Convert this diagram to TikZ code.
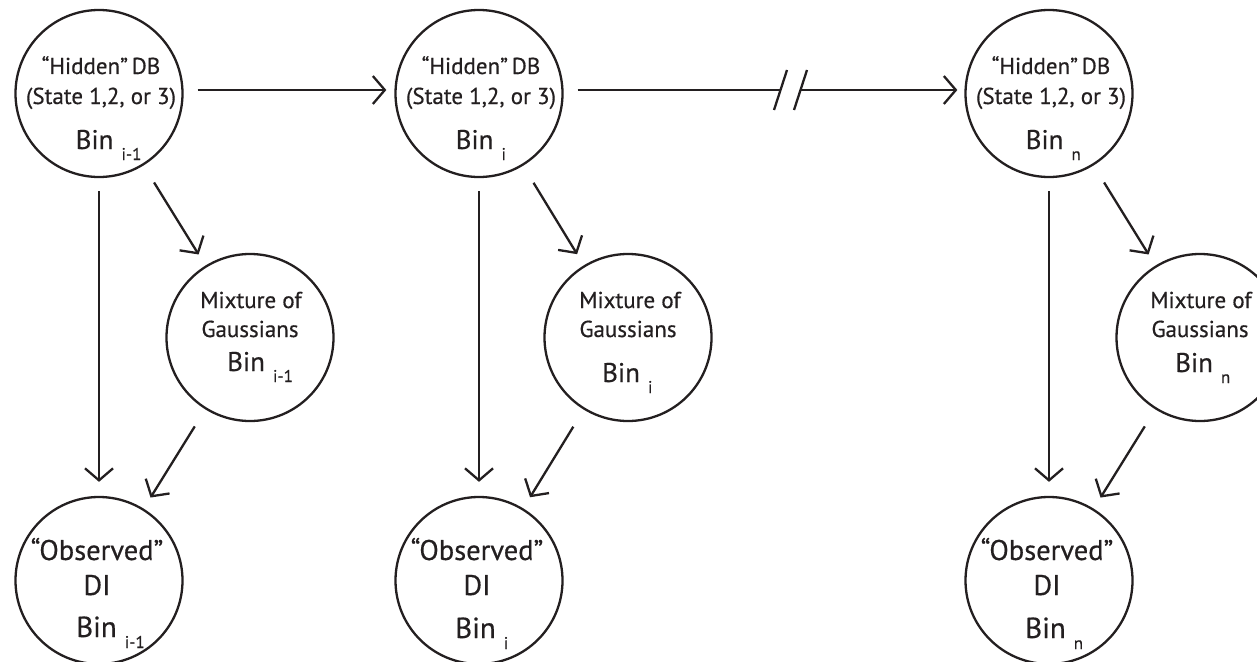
\documentclass[tikz,border=0pt]{standalone}
\usepackage{fontspec}
\setmainfont{PT Sans}[FakeBold=0.45]
\usetikzlibrary{arrows.meta}
\definecolor{ink}{HTML}{231F20}
\newcommand{\fsz}[1]{\fontsize{#1pt}{#1pt}\selectfont}
% "Bin" with its lowered index
\newcommand{\binlabel}[2]{{\fsz{#2}Bin}\hspace{8pt}{\fsz{17}\raisebox{-11pt}{#1}}}
\begin{document}
\begin{tikzpicture}[x=1pt,y=-1pt,
  state/.style={circle, draw=ink, line width=2.3pt, minimum size=167pt, inner sep=0pt},
  txt/.style={anchor=base, inner sep=0pt, text=ink, font=\fsz{23}},
  otxt/.style={anchor=base, inner sep=0pt, text=ink, font=\fsz{28.5}},
  bintxt/.style={anchor=base west, inner sep=0pt, text=ink},
  wire/.style={draw=ink, line width=2.3pt},
  arr/.style={wire, -{Straight Barb[length=12pt,width=28pt,line width=2.3pt]}},
]
\useasboundingbox (0,0) rectangle (1257,661);

% ---- circles ----
\node[state] (h1) at (99,93.5) {};
\node[state] (h2) at (479,93.5) {};
\node[state] (h3) at (1049,93.5) {};
\node[state] (m1) at (250,337.5) {};
\node[state] (m2) at (628,337.5) {};
\node[state] (m3) at (1200,337.5) {};
\node[state] (o1) at (99,580.5) {};
\node[state] (o2) at (479,580.5) {};
\node[state] (o3) at (1049,580.5) {};

% ---- hidden-state texts ----
\node[txt] (h1a) at (101,74) {“Hidden”\,DB};
\node[txt] (h1b) at (101,104) {(State 1,2, or 3)};
\node[bintxt] (h1c) at (75.5,149) {\binlabel{i-1}{27}};
\node[txt] (h2a) at (481,74) {“Hidden”\,DB};
\node[txt] (h2b) at (481,104) {(State 1,2, or 3)};
\node[bintxt] (h2c) at (455.5,149) {\binlabel{i}{27}};
\node[txt] (h3a) at (1051,74) {“Hidden”\,DB};
\node[txt] (h3b) at (1051,104) {(State 1,2, or 3)};
\node[bintxt] (h3c) at (1025.5,149) {\binlabel{n}{27}};

% ---- mixture texts ----
\node[txt] (m1a) at (251,308) {Mixture of};
\node[txt] (m1b) at (250,337) {Gaussians};
\node[bintxt] (m1c) at (227,371) {\binlabel{i-1}{27}};
\node[txt] (m2a) at (630,308) {Mixture of};
\node[txt] (m2b) at (628,337) {Gaussians};
\node[bintxt] (m2c) at (602,382) {\binlabel{i}{27}};
\node[txt] (m3a) at (1201,308) {Mixture of};
\node[txt] (m3b) at (1200,337) {Gaussians};
\node[bintxt] (m3c) at (1175,372) {\binlabel{n}{27}};

% ---- observed texts ----
\node[otxt] (o1a) at (97,560) {“Observed”};
\node[otxt] (o1b) at (97,595) {DI};
\node[bintxt] (o1c) at (76,637) {\binlabel{i-1}{29}};
\node[otxt] (o2a) at (477,560) {“Observed”};
\node[otxt] (o2b) at (477,595) {DI};
\node[bintxt] (o2c) at (455,638) {\binlabel{i}{29}};
\node[otxt] (o3a) at (1047,560) {“Observed”};
\node[otxt] (o3b) at (1047,595) {DI};
\node[bintxt] (o3c) at (1025,638) {\binlabel{n}{29}};

% ---- chain between bins ----
\draw[arr, shorten <=14pt, shorten >=8pt] ([yshift=3.5pt]h1.east) -- ([yshift=3.5pt]h2.west);
\coordinate (brkL) at (780,90);
\coordinate (brkR) at (800,90);
\draw[wire, shorten <=14pt] ([yshift=3.5pt]h2.east) -- (brkL);
\draw[arr, shorten >=7pt] (brkR) -- ([yshift=3.5pt]h3.west);
% break marks
\draw[wire] (774,110) -- (787,70);
\draw[wire] (794,110) -- (807,70);

% ---- within each bin ----
\foreach \i in {1,2,3}{
  \draw[arr, shorten <=13pt, shorten >=14pt] (h\i.south) -- (o\i.north);
  \draw[arr, shorten <=20pt, shorten >=13pt] (h\i) -- (m\i);
  \draw[arr, shorten <=20pt, shorten >=13pt] (m\i) -- (o\i);
}
\end{tikzpicture}
\end{document}
